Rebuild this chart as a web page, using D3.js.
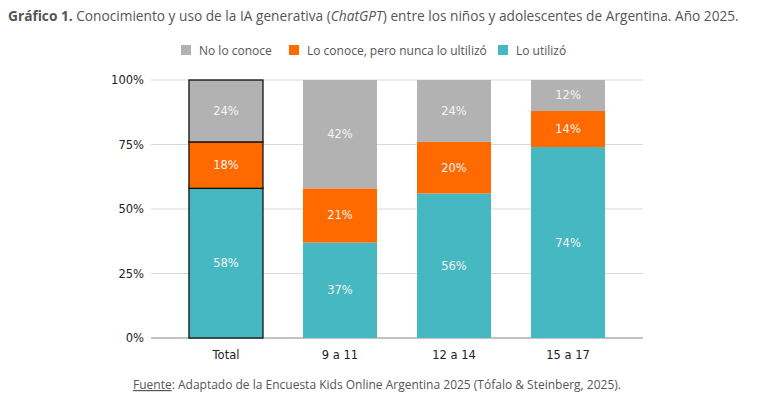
<!DOCTYPE html>
<html>
<head>
<meta charset="utf-8">
<script src="https://cdn.jsdelivr.net/npm/d3@7"></script>
<style>
  body { margin: 0; background: #fff; }
  .tick text { font-family: "DejaVu Sans", Verdana, sans-serif; font-size: 11.5px; fill: #222; }
  .seg-label { font-family: "DejaVu Sans", Verdana, sans-serif; font-size: 11.5px; fill: #f4f4f4; }
  .note { font-family: "Open Sans", sans-serif; fill: #555; }
</style>
</head>
<body>
<div id="chart"></div>
<script>
var svgWidth = 760;
var svgHeight = 404;

// data
var categories = ["Total", "9 a 11", "12 a 14", "15 a 17"];
var seriesNames = ["Lo utilizó", "Lo conoce, pero nunca lo ultilizó", "No lo conoce"];
var utilizo = [58, 37, 56, 74];
var conoce = [18, 21, 20, 14];
var noConoce = [24, 42, 24, 12];
var yTicks = [0, 25, 50, 75, 100];

var colors = ["#45b8c2", "#ff6a00", "#b2b2b2"];

var margin = { left: 151, right: 117, top: 80, bottom: 66 };
var width = svgWidth - margin.left - margin.right;
var height = svgHeight - margin.top - margin.bottom;

var svg = d3.select("#chart")
  .append("svg")
  .attr("width", svgWidth)
  .attr("height", svgHeight);

// title
var title = svg.append("text")
  .attr("x", 8)
  .attr("y", 21)
  .attr("class", "note")
  .attr("font-size", "13.7px");
title.append("tspan").attr("font-weight", "bold").attr("fill", "#555").text("Gráfico 1.");
title.append("tspan").text(" Conocimiento y uso de la IA generativa (");
title.append("tspan").attr("font-style", "italic").text("ChatGPT");
title.append("tspan").text(") entre los niños y adolescentes de Argentina. Año 2025.");

// legend (drawn in reverse order of stacking)
var legendItems = [
  { name: seriesNames[2], color: colors[2], x: 181 },
  { name: seriesNames[1], color: colors[1], x: 289 },
  { name: seriesNames[0], color: colors[0], x: 498 }
];
var legend = svg.append("g").selectAll("g")
  .data(legendItems)
  .enter()
  .append("g")
  .attr("transform", d => `translate(${d.x}, 45)`);
legend.append("rect")
  .attr("width", 10)
  .attr("height", 10)
  .attr("fill", d => d.color);
legend.append("text")
  .attr("x", 18)
  .attr("y", 9.5)
  .attr("class", "note")
  .attr("fill", "#333")
  .attr("font-size", "12px")
  .text(d => d.name);

var chartGroup = svg.append("g")
  .attr("transform", `translate(${margin.left}, ${margin.top})`);

var xScale = d3.scaleBand()
  .domain(categories)
  .range([0, width])
  .paddingInner(0.351)
  .paddingOuter(0.333);

var yScale = d3.scaleLinear()
  .domain([0, 100])
  .range([height, 0]);

// gridlines
chartGroup.append("g")
  .selectAll("line")
  .data(yTicks)
  .enter()
  .append("line")
  .attr("x1", 0)
  .attr("x2", width)
  .attr("y1", d => yScale(d))
  .attr("y2", d => yScale(d))
  .attr("stroke", d => d === 0 ? "#888" : "#d9d9d9")
  .attr("stroke-width", 1.2);

// y axis
var leftAxis = d3.axisLeft(yScale).tickValues(yTicks).tickSize(0).tickPadding(7).tickFormat(d => d + "%");
chartGroup.append("g")
  .call(leftAxis)
  .call(g => g.select(".domain").remove());

// x axis
var bottomAxis = d3.axisBottom(xScale).tickSize(0).tickPadding(13);
chartGroup.append("g")
  .attr("transform", `translate(0, ${height})`)
  .call(bottomAxis)
  .call(g => g.select(".domain").remove());

// stacked data
var rows = categories.map(function (c, i) {
  var r = { cat: c };
  r[seriesNames[0]] = utilizo[i];
  r[seriesNames[1]] = conoce[i];
  r[seriesNames[2]] = noConoce[i];
  return r;
});
var stacked = d3.stack().keys(seriesNames)(rows);

var layers = chartGroup.selectAll(".layer")
  .data(stacked)
  .enter()
  .append("g")
  .attr("class", "layer")
  .attr("fill", (d, i) => colors[i]);

layers.selectAll("rect")
  .data(d => d)
  .enter()
  .append("rect")
  .attr("x", d => xScale(d.data.cat))
  .attr("y", d => yScale(d[1]))
  .attr("width", xScale.bandwidth())
  .attr("height", d => yScale(d[0]) - yScale(d[1]))
  .attr("stroke", d => d.data.cat === "Total" ? "#111" : "none")
  .attr("stroke-width", 1.3);

layers.selectAll("text")
  .data(d => d)
  .enter()
  .append("text")
  .attr("class", "seg-label")
  .attr("text-anchor", "middle")
  .attr("x", d => xScale(d.data.cat) + xScale.bandwidth() / 2)
  .attr("y", d => yScale((d[0] + d[1]) / 2) + 4)
  .text(d => (d[1] - d[0]) + "%");

// source
var source = svg.append("text")
  .attr("x", 377)
  .attr("y", 389)
  .attr("text-anchor", "middle")
  .attr("class", "note")
  .attr("font-size", "12px");
source.append("tspan").attr("text-decoration", "underline").text("Fuente");
source.append("tspan").text(": Adaptado de la Encuesta Kids Online Argentina 2025 (Tófalo & Steinberg, 2025).");
</script>
</body>
</html>
